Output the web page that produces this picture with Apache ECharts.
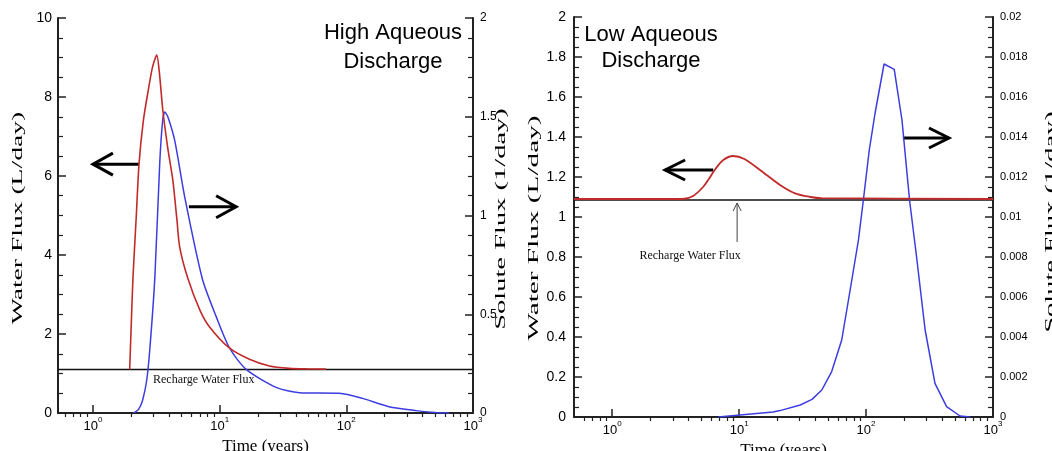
<!DOCTYPE html>
<html><head><meta charset="utf-8">
<script src="https://cdn.jsdelivr.net/npm/echarts@6/dist/echarts.min.js"></script>
<style>html,body{margin:0;padding:0;background:#fff}#c{width:1052px;height:451px}</style>
</head><body><div id="c"></div>
<script>
// ---- ticks ----
const xMajorTicks = [1, 10, 100, 1000];
const xMinorTicks = [0.6,0.7,0.8,0.9,2,3,4,5,6,7,8,9,20,30,40,50,60,70,80,90,200,300,400,500,600,700,800,900];

// ---- High aqueous discharge (left panel) ----
// [time (years), water flux (L/day)]
const highWaterFlux = [[1.95,1.1],[2.0,2.1],[2.07,3.42],[2.2,5.0],[2.31,6.3],[2.5,7.4],[2.71,8.1],[2.95,8.75],[3.19,9.06],[3.35,8.6],[3.56,7.67],[3.9,6.7],[4.27,5.9],[4.6,4.9],[4.84,4.2],[5.6,3.42],[7.0,2.6],[8.33,2.18],[12,1.64],[17.2,1.36],[24.7,1.19],[35.5,1.13],[50,1.115],[69,1.11]];
// [time (years), solute flux (1/day)]
const highSoluteFlux = [[2.1,0],[2.3,0.02],[2.47,0.066],[2.66,0.167],[2.81,0.32],[3.08,0.684],[3.37,1.27],[3.55,1.48],[3.69,1.524],[3.9,1.5],[4.42,1.38],[5.3,1.094],[7.3,0.68],[9.4,0.488],[12,0.328],[16.2,0.221],[27.9,0.13],[42.7,0.103],[88,0.10],[134,0.074],[217,0.032],[354,0.012],[500,0.003],[650,0]];
const highRecharge = [[0.53,1.1],[1000,1.1]];

// ---- Low aqueous discharge (right panel) ----
const lowWaterFlux = [[0.5,1.09],[3.6,1.09],[4.34,1.105],[5.2,1.15],[5.7,1.185],[6.5,1.24],[7.5,1.285],[8.95,1.305],[11,1.29],[14.6,1.235],[21,1.16],[27.6,1.118],[36.5,1.10],[44.5,1.094],[1000,1.09]];
const lowSoluteFlux = [[6.85,0],[10.2,0.0001],[18.5,0.00025],[21,0.00032],[30.3,0.0006],[37.5,0.00088],[44.8,0.00135],[53.6,0.00227],[64.3,0.00385],[74.9,0.00635],[87.1,0.00885],[95.2,0.01085],[106,0.01335],[117.8,0.0152],[138.6,0.01765],[166.7,0.01738],[191.8,0.01485],[220,0.01085],[250,0.0080],[292,0.00435],[349,0.00168],[431,0.00052],[550,0.00005],[660,0]];
const lowRecharge = [[0.5,1.085],[1000,1.085]];

// ---- annotations in data space: [tail, tip] ----
const highLeftArrow = [[2.31,6.3],[1.0,6.3]];
const highRightArrow = [[5.72,5.22],[13.5,5.22]];
const lowLeftArrow = [[6.25,1.235],[2.61,1.235]];
const lowRightArrow = [[195,1.395],[450,1.395]];
const lowRechargePointer = [[9.64,0.875],[9.64,1.07]];
const highRechargeLabel = [2.98,0.835];
const lowRechargeLabel = [4.11,0.805];

const RED = '#c22a2a', BLUE = '#3c3ce0';
const SANS = 'Liberation Sans, Arial, sans-serif';
const SERIF = 'Liberation Serif, Times New Roman, serif';

function xAxes(grid, min, gap) {
  const common = {type:'log', logBase:10, gridIndex:grid, min:min, max:1000, splitLine:{show:false}};
  return [
    Object.assign({}, common, {
      axisLine:{show:true, lineStyle:{color:'#222', width:2}},
      axisTick:{show:true, inside:true, length:8, customValues:xMajorTicks, lineStyle:{color:'#222', width:1.5}},
      axisLabel:{show:true, margin:3, customValues:xMajorTicks,
        formatter: v => '{b|10}{s|' + Math.round(Math.log10(v)) + '}',
        rich:{b:{fontSize:13, lineHeight:17, fontFamily:SANS, color:'#000', verticalAlign:'bottom'},
              s:{fontSize:8, lineHeight:9, fontFamily:SANS, color:'#000', verticalAlign:'top'}}},
      name:'Time (years)', nameLocation:'middle', nameGap:gap,
      nameTextStyle:{fontFamily:SERIF, fontSize:17, color:'#000'}
    }),
    Object.assign({}, common, {
      axisLine:{show:false},
      axisTick:{show:true, inside:true, length:4, customValues:xMinorTicks, lineStyle:{color:'#222', width:1.2}},
      axisLabel:{show:false}
    })
  ];
}

function yAxis(grid, pos, max, interval, split, fs, margin) {
  return {type:'value', gridIndex:grid, position:pos, min:0, max:max, interval:interval,
    splitLine:{show:false},
    axisLine:{show:true, lineStyle:{color:'#222', width:2}},
    axisTick:{show:true, inside:true, length:8, lineStyle:{color:'#222', width:1.5}},
    minorTick:{show:true, splitNumber:split, length:5, lineStyle:{color:'#222', width:1.2}},
    axisLabel:{fontFamily:SANS, fontSize:fs, color:'#000', margin:margin}};
}

const chart = echarts.init(document.getElementById('c'), null, {renderer:'canvas'});
const option = {
  animation:false,
  backgroundColor:'#fff',
  grid:[{left:58, width:415, top:18, height:395, outerBoundsMode:'none', containLabel:false},
        {left:574, width:419, top:17, height:400, outerBoundsMode:'none', containLabel:false}],
  xAxis:[].concat(xAxes(0,0.53,17), xAxes(1,0.5,18)),
  yAxis:[
    yAxis(0,'left',10,2,4,14,6),
    yAxis(0,'right',2,0.5,5,12,7),
    yAxis(1,'left',2,0.2,4,14,8),
    yAxis(1,'right',0.02,0.002,4,11,7)
  ],
  series:[
    {type:'line', name:'Recharge Water Flux', xAxisIndex:0, yAxisIndex:0, data:highRecharge, showSymbol:false, lineStyle:{color:'#111', width:1.5}, z:1},
    {type:'line', name:'Water Flux', xAxisIndex:0, yAxisIndex:0, data:highWaterFlux, showSymbol:false, smooth:0.25, lineStyle:{color:RED, width:1.6}, z:3},
    {type:'line', name:'Solute Flux', xAxisIndex:0, yAxisIndex:1, data:highSoluteFlux, showSymbol:false, smooth:0.25, lineStyle:{color:BLUE, width:1.5}, z:2},
    {type:'line', name:'Recharge Water Flux', xAxisIndex:2, yAxisIndex:2, data:lowRecharge, showSymbol:false, lineStyle:{color:'#111', width:1.5}, z:1},
    {type:'line', name:'Water Flux', xAxisIndex:2, yAxisIndex:2, data:lowWaterFlux, showSymbol:false, smooth:0.3, lineStyle:{color:RED, width:1.8}, z:3},
    {type:'line', name:'Solute Flux', xAxisIndex:2, yAxisIndex:3, data:lowSoluteFlux, showSymbol:false, lineStyle:{color:BLUE, width:1.5}, z:2}
  ]
};
chart.setOption(option);

function px(finder, p) { return chart.convertToPixel(finder, p); }
function arrow(finder, seg, L, W, color, width) {
  const a = px(finder, seg[0]), b = px(finder, seg[1]);
  const dx = b[0]-a[0], dy = b[1]-a[1], len = Math.hypot(dx,dy);
  const ux = dx/len, uy = dy/len, nx = -uy, ny = ux;
  const style = {stroke:color, lineWidth:width, fill:null, lineCap:'butt', lineJoin:'miter'};
  return [
    {type:'polyline', shape:{points:[a,b]}, style:style, silent:true},
    {type:'polyline', shape:{points:[[b[0]-ux*L+nx*W, b[1]-uy*L+ny*W], b, [b[0]-ux*L-nx*W, b[1]-uy*L-ny*W]]}, style:style, silent:true}
  ];
}
const F0 = {xAxisIndex:0, yAxisIndex:0}, F1 = {xAxisIndex:2, yAxisIndex:2};
const hl = px(F0, highRechargeLabel), ll = px(F1, lowRechargeLabel);
function vtitle(text, x, y, sx) {
  return {type:'text', x:x, y:y, rotation:Math.PI/2, scaleX:sx, silent:true,
    style:{text:text, font:'15px ' + SERIF, fill:'#000', align:'center', verticalAlign:'middle'}};
}
const graphics = [].concat(
  arrow(F0, highLeftArrow, 20, 11, '#000', 3),
  arrow(F0, highRightArrow, 20, 11, '#000', 3),
  arrow(F1, lowLeftArrow, 20, 10, '#000', 3),
  arrow(F1, lowRightArrow, 20, 10, '#000', 3),
  arrow(F1, lowRechargePointer, 8, 4, '#444', 1),
  [
    {type:'text', x:hl[0], y:hl[1], silent:true, style:{text:'Recharge Water Flux', font:'12px ' + SERIF, fill:'#111', align:'left', verticalAlign:'middle'}},
    {type:'text', x:ll[0], y:ll[1], silent:true, style:{text:'Recharge Water Flux', font:'12px ' + SERIF, fill:'#111', align:'center', verticalAlign:'middle'}},
    {type:'text', x:393, y:47, silent:true, style:{text:'High Aqueous\nDischarge', font:'22px ' + SANS, lineHeight:29, fill:'#000', align:'center', verticalAlign:'middle'}},
    {type:'text', x:651, y:48, silent:true, style:{text:'Low Aqueous\nDischarge', font:'22px ' + SANS, lineHeight:26, fill:'#000', align:'center', verticalAlign:'middle'}},
    vtitle('Water Flux (L/day)', 18, 218, 1.84),
    vtitle('Solute Flux (1/day)', 501, 219, 1.9),
    vtitle('Water Flux (L/day)', 534, 228, 1.95),
    vtitle('Solute Flux (1/day)', 1051, 222, 1.9)
  ]
);
chart.setOption({graphic: graphics});
</script>
</body></html>
